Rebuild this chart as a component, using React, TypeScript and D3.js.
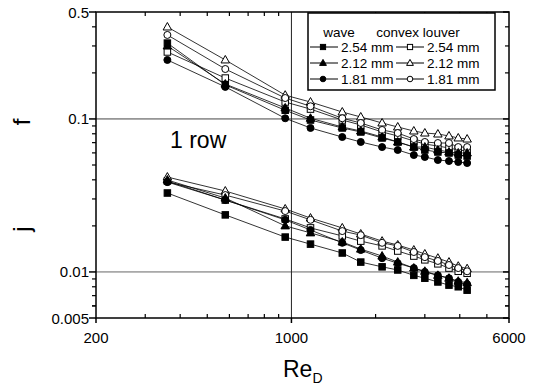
import React from 'react';
import * as d3 from 'd3';

// Reynolds numbers (Re_D) of the measurement points
const reynolds = [360, 580, 950, 1170, 1520, 1770, 2110, 2400, 2740, 3000, 3340, 3660, 3950, 4250];

// friction factor f
const fWave254 = [0.313, 0.167, 0.114, 0.0984, 0.0873, 0.0822, 0.0751, 0.0707, 0.0655, 0.0627, 0.0608, 0.0599, 0.0581, 0.0572];
const fWave212 = [0.300, 0.169, 0.118, 0.101, 0.0886, 0.0834, 0.0762, 0.0707, 0.0655, 0.0655, 0.0627, 0.0608, 0.0599, 0.0599];
const fWave181 = [0.243, 0.162, 0.101, 0.0873, 0.0762, 0.0707, 0.0655, 0.0627, 0.0581, 0.0564, 0.0539, 0.0531, 0.0523, 0.0515];
const fConvex254 = [0.274, 0.185, 0.129, 0.116, 0.0984, 0.0913, 0.0822, 0.0774, 0.0718, 0.0686, 0.0665, 0.0646, 0.0627, 0.0617];
const fConvex212 = [0.399, 0.243, 0.143, 0.129, 0.111, 0.103, 0.0941, 0.0886, 0.0834, 0.0809, 0.0797, 0.0774, 0.0751, 0.0739];
const fConvex181 = [0.354, 0.212, 0.137, 0.121, 0.101, 0.0941, 0.0847, 0.0809, 0.0739, 0.0707, 0.0696, 0.0696, 0.0655, 0.0655];

// Colburn factor j
const jWave254 = [0.0328, 0.0236, 0.0169, 0.0152, 0.0133, 0.0116, 0.0108, 0.0103, 0.0095, 0.0091, 0.0086, 0.0082, 0.0080, 0.0076];
const jWave212 = [0.0399, 0.0304, 0.0200, 0.0180, 0.0157, 0.0141, 0.0127, 0.0116, 0.0106, 0.0101, 0.0095, 0.0091, 0.0087, 0.0085];
const jWave181 = [0.0387, 0.0295, 0.0219, 0.0188, 0.0155, 0.0139, 0.0123, 0.0114, 0.0106, 0.0100, 0.0095, 0.0091, 0.0086, 0.0083];
const jConvex254 = [0.0393, 0.0295, 0.0222, 0.0194, 0.0172, 0.0159, 0.0148, 0.0137, 0.0127, 0.0120, 0.0113, 0.0106, 0.0101, 0.0098];
const jConvex212 = [0.0417, 0.0338, 0.0258, 0.0225, 0.0194, 0.0177, 0.0159, 0.0150, 0.0139, 0.0131, 0.0123, 0.0116, 0.0109, 0.0105];
const jConvex181 = [0.0387, 0.0318, 0.0250, 0.0219, 0.0185, 0.0174, 0.0155, 0.0148, 0.0135, 0.0125, 0.0118, 0.0111, 0.0106, 0.0101];

const pitchLabels = ['2.54 mm', '2.12 mm', '1.81 mm'];
const groupLabels = ['wave', 'convex louver'];
const xTickLabels = [200, 1000, 6000];
const yTickLabels = [0.5, 0.1, 0.01, 0.005];

type Shape = 'square' | 'triangle' | 'circle';
type Series = { f: number[]; j: number[]; shape: Shape; filled: boolean };

const series: Series[] = [
  { f: fConvex254, j: jConvex254, shape: 'square', filled: false },
  { f: fConvex212, j: jConvex212, shape: 'triangle', filled: false },
  { f: fConvex181, j: jConvex181, shape: 'circle', filled: false },
  { f: fWave181, j: jWave181, shape: 'circle', filled: true },
  { f: fWave212, j: jWave212, shape: 'triangle', filled: true },
  { f: fWave254, j: jWave254, shape: 'square', filled: true },
];

const W = 539;
const H = 389;
const L = 96, R = 509, T = 12, B = 318;
const FONT = 'Liberation Sans, Arial, Helvetica, sans-serif';

function Marker({ x, y, shape, filled, size = 1 }: { x: number; y: number; shape: Shape; filled: boolean; size?: number }) {
  const fill = filled ? '#000' : '#fff';
  const stroke = '#000';
  if (shape === 'square') {
    const s = 6.5 * size;
    return <rect x={x - s / 2} y={y - s / 2} width={s} height={s} fill={fill} stroke={stroke} strokeWidth={1} />;
  }
  if (shape === 'circle') {
    return <circle cx={x} cy={y} r={3.5 * size} fill={fill} stroke={stroke} strokeWidth={1} />;
  }
  const h = 7.5 * size;
  const w = 8.5 * size;
  const p = `M${x},${y - h * 0.6} L${x + w / 2},${y + h * 0.4} L${x - w / 2},${y + h * 0.4} Z`;
  return <path d={p} fill={fill} stroke={stroke} strokeWidth={1} />;
}

export default function App() {
  const x = d3.scaleLog().domain([200, 6000]).range([L, R]);
  const y = d3.scaleLog().domain([0.005, 0.5]).range([B, T]);

  const line = (vals: number[]) =>
    d3.line<number>().x((_, i) => x(reynolds[i])).y((v) => y(v))(vals) || '';

  const xMinor = [300, 400, 500, 600, 700, 800, 900, 2000, 3000, 4000, 5000];
  const yMinor: number[] = [];
  [0.001, 0.01, 0.1].forEach((dec) => {
    for (let k = 2; k <= 9; k++) {
      const v = +(k * dec).toPrecision(3);
      if (v > 0.005 && v < 0.5) yMinor.push(v);
    }
  });
  yMinor.push(0.006);

  const legendRows = [
    { shape: 'square' as Shape },
    { shape: 'triangle' as Shape },
    { shape: 'circle' as Shape },
  ];

  return (
    <svg width={W} height={H} style={{ position: 'absolute', left: 0, top: 0, display: 'block', background: '#fff' }} fontFamily={FONT}>
      <rect x={0} y={0} width={W} height={H} fill="#fff" />
      {/* grid lines */}
      <line x1={L} x2={R} y1={y(0.1)} y2={y(0.1)} stroke="#444" strokeWidth={1} />
      <line x1={L} x2={R} y1={y(0.01)} y2={y(0.01)} stroke="#666" strokeWidth={1} />
      <line x1={x(1000)} x2={x(1000)} y1={T} y2={B} stroke="#222" strokeWidth={1} />

      {/* ticks */}
      {xMinor.map((v) => (
        <g key={'xm' + v}>
          <line x1={x(v)} x2={x(v)} y1={B} y2={B - 4} stroke="#000" strokeWidth={1.2} />
          <line x1={x(v)} x2={x(v)} y1={T} y2={T + 4} stroke="#000" strokeWidth={1.2} />
        </g>
      ))}
      {xTickLabels.map((v) => (
        <g key={'xM' + v}>
          <line x1={x(v)} x2={x(v)} y1={B} y2={B + 5} stroke="#000" strokeWidth={1.5} />
          <text x={x(v)} y={343} textAnchor="middle" fontSize={15}>{v}</text>
        </g>
      ))}
      {yMinor.map((v) => (
        <g key={'ym' + v}>
          <line x1={L} x2={L - 4} y1={y(v)} y2={y(v)} stroke="#000" strokeWidth={1.2} />
          <line x1={R} x2={R - 4} y1={y(v)} y2={y(v)} stroke="#000" strokeWidth={1.2} />
        </g>
      ))}
      {yTickLabels.map((v) => (
        <g key={'yM' + v}>
          <line x1={L} x2={L - 7} y1={y(v)} y2={y(v)} stroke="#000" strokeWidth={1.5} />
          <line x1={R} x2={R - 6} y1={y(v)} y2={y(v)} stroke="#000" strokeWidth={1.5} />
          <text x={89} y={y(v) + 5.5} textAnchor="end" fontSize={15}>{v}</text>
        </g>
      ))}

      {/* frame */}
      <rect x={L} y={T} width={R - L} height={B - T} fill="none" stroke="#000" strokeWidth={1.5} />

      {/* series lines */}
      {series.map((s, si) => (
        <g key={'l' + si}>
          <path d={line(s.f)} fill="none" stroke="#000" strokeWidth={0.8} />
          <path d={line(s.j)} fill="none" stroke="#000" strokeWidth={0.8} />
        </g>
      ))}
      {/* markers */}
      {series.map((s, si) => (
        <g key={'m' + si}>
          {s.f.map((v, i) => (
            <Marker key={'f' + i} x={x(reynolds[i])} y={y(v)} shape={s.shape} filled={s.filled} />
          ))}
          {s.j.map((v, i) => (
            <Marker key={'j' + i} x={x(reynolds[i])} y={y(v)} shape={s.shape} filled={s.filled} />
          ))}
        </g>
      ))}

      {/* legend */}
      <rect x={308} y={13} width={187} height={77} fill="#fff" stroke="#000" strokeWidth={1.5} />
      <text x={339} y={37} textAnchor="middle" fontSize={13.5}>{groupLabels[0]}</text>
      <text x={418} y={37} textAnchor="middle" fontSize={13.5}>{groupLabels[1]}</text>
      {legendRows.map((r, i) => {
        const yy = 47 + i * 16;
        return (
          <g key={'lg' + i}>
            <line x1={310} x2={338} y1={yy} y2={yy} stroke="#000" strokeWidth={1} />
            <Marker x={323} y={yy} shape={r.shape} filled={true} size={0.8} />
            <text x={341} y={yy + 5} fontSize={13.5}>{pitchLabels[i]}</text>
            <line x1={396} x2={424} y1={yy} y2={yy} stroke="#000" strokeWidth={1} />
            <Marker x={410} y={yy} shape={r.shape} filled={false} size={0.8} />
            <text x={427} y={yy + 5} fontSize={13.5}>{pitchLabels[i]}</text>
          </g>
        );
      })}

      {/* annotations */}
      <text x={170} y={148} fontSize={23}>1 row</text>
      <text transform="translate(30,122) rotate(-90)" textAnchor="middle" fontSize={24}>f</text>
      <text transform="translate(30,229) rotate(-90)" textAnchor="middle" fontSize={24}>j</text>
      <text x={283} y={377} fontSize={23}>Re<tspan fontSize={14} dy={6}>D</tspan></text>
    </svg>
  );
}
